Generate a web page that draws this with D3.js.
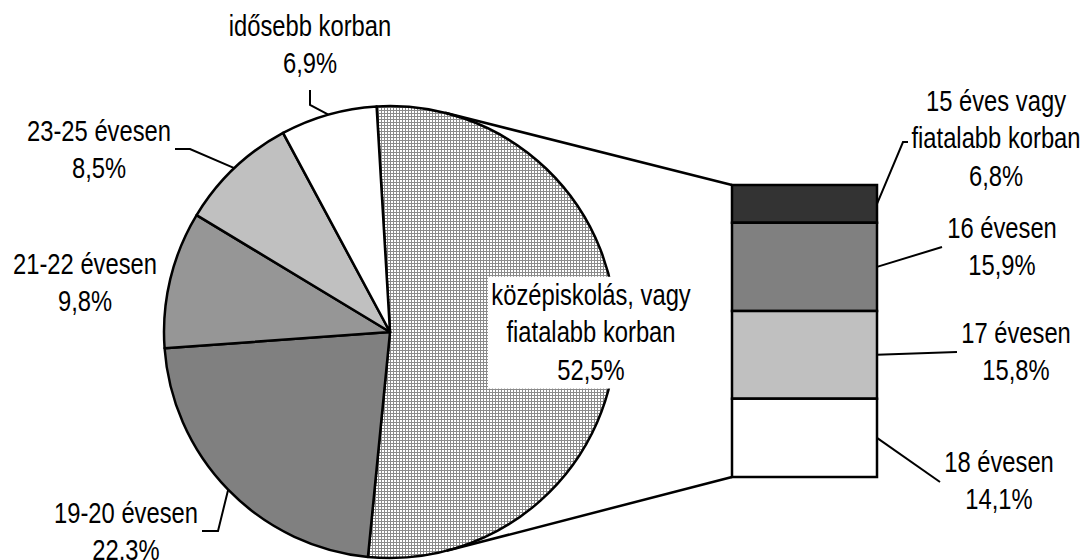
<!DOCTYPE html>
<html>
<head>
<meta charset="utf-8">
<script src="https://cdn.jsdelivr.net/npm/d3@7"></script>
<style>
  body { margin: 0; background: #fff; }
  text { font-family: "Liberation Sans", Arial, sans-serif; font-size: 29px; fill: #000; }
</style>
</head>
<body>
<svg width="1086" height="560"></svg>
<script>
// pie slices (clockwise from the split slice)
var pieLabels = [
    ["középiskolás, vagy", "fiatalabb korban"],
    ["19-20 évesen"],
    ["21-22 évesen"],
    ["23-25 évesen"],
    ["idősebb korban"]
];
var pieValues = [52.5, 22.3, 9.8, 8.5, 6.9];
var pieColors = ["url(#hatch)", "#808080", "#969696", "#c0c0c0", "#ffffff"];

// bar of pie (top to bottom)
var barLabels = [
    ["15 éves vagy", "fiatalabb korban"],
    ["16 évesen"],
    ["17 évesen"],
    ["18 évesen"]
];
var barValues = [6.8, 15.9, 15.8, 14.1];
var barColors = ["#333333", "#808080", "#c0c0c0", "#ffffff"];

var svg = d3.select("svg");

var pieData = { cx: 390, cy: 332, r: 226, start: -3.4 * Math.PI / 180 };
var barData = { x: 732, width: 145, top: 185, bottom: 477 };
var lineHeight = 37.5;
var narrow = 0.82; // mimic Arial Narrow

// label anchors: [center x, first baseline]
var pieLabelPos = [[591, 305], [126, 523], [85, 274], [99, 141], [310, 36]];
var pieLeader = [null, [[202, 531], [218, 531]], null, [[175, 149], [190, 149]], [[310, 90], [310, 105]]];
var barLabelPos = [[996, 111], [1002, 238], [1016, 343], [999, 472]];
var barLeader = [[[903, 142], [908, 142]], [[942, 247]], [[957, 352]], [[940, 482]]];

var fmt = function (v) { return d3.format(".1f")(v).replace(".", ",") + "%"; };

// crosshatch pattern
var pat = svg.append("defs").append("pattern")
    .attr("id", "hatch")
    .attr("width", 3).attr("height", 3)
    .attr("patternUnits", "userSpaceOnUse");
pat.append("rect").attr("width", 3).attr("height", 3).attr("fill", "#fff");
pat.append("path").attr("d", "M0,0.5H3M0.5,0V3")
    .attr("stroke", "#8a8a8a").attr("stroke-width", 1);

var pie = d3.pie().sort(null)
    .startAngle(pieData.start)
    .endAngle(pieData.start + 2 * Math.PI);
var arcs = pie(pieValues);
var arc = d3.arc().innerRadius(0).outerRadius(pieData.r);

var gPie = svg.append("g")
    .attr("transform", "translate(" + pieData.cx + "," + pieData.cy + ")");

gPie.selectAll("path")
    .data(arcs)
    .enter().append("path")
    .attr("d", arc)
    .attr("fill", function (d, i) { return pieColors[i]; })
    .attr("stroke", "#000")
    .attr("stroke-width", 2.5)
    .attr("stroke-linejoin", "round");

// bar stack
var y = d3.scaleLinear()
    .domain([0, d3.sum(barValues)])
    .range([barData.top, barData.bottom]);
var cum = 0;
var barSegs = barValues.map(function (v) { var s = { y0: cum, y1: cum + v }; cum += v; return s; });

svg.append("g").selectAll("rect")
    .data(barSegs)
    .enter().append("rect")
    .attr("x", barData.x)
    .attr("width", barData.width)
    .attr("y", function (d) { return y(d.y0); })
    .attr("height", function (d) { return y(d.y1) - y(d.y0); })
    .attr("fill", function (d, i) { return barColors[i]; })
    .attr("stroke", "#000")
    .attr("stroke-width", 2.5);

// connector lines: bar corners to tangent points on the pie
function tangent(px, py, side) {
    var dx = px - pieData.cx, dy = py - pieData.cy;
    var d = Math.sqrt(dx * dx + dy * dy);
    var th = Math.atan2(dy, dx), a = Math.acos(pieData.r / d);
    var t = th + side * a;
    return [pieData.cx + pieData.r * Math.cos(t), pieData.cy + pieData.r * Math.sin(t)];
}
[[barData.x, y(0), -1], [barData.x, y(d3.sum(barValues)), 1]].forEach(function (c) {
    var t = tangent(c[0], c[1], c[2]);
    svg.append("line")
        .attr("x1", c[0]).attr("y1", c[1])
        .attr("x2", t[0]).attr("y2", t[1])
        .attr("stroke", "#000").attr("stroke-width", 2.5);
});

var line = d3.line();

function addLabel(parent, pos, lines) {
    var t = parent.append("text")
        .attr("text-anchor", "middle")
        .attr("transform", "translate(" + pos[0] + "," + pos[1] + ") scale(" + narrow + ",1)");
    lines.forEach(function (s, k) {
        t.append("tspan").attr("x", 0).attr("y", k * lineHeight).text(s);
    });
    return t;
}

// pie leaders + labels
arcs.forEach(function (d, i) {
    var mid = (d.startAngle + d.endAngle) / 2;
    var edge = [pieData.cx + pieData.r * Math.sin(mid), pieData.cy - pieData.r * Math.cos(mid)];
    if (pieLeader[i]) {
        svg.append("path")
            .attr("d", line(pieLeader[i].concat([edge])))
            .attr("fill", "none").attr("stroke", "#000").attr("stroke-width", 2);
    }
    var g = svg.append("g");
    var t = addLabel(g, pieLabelPos[i], pieLabels[i].concat([fmt(pieValues[i])]));
    if (i === 0) {
        var bb = t.node().getBBox();
        var w = bb.width * narrow;
        g.insert("rect", "text")
            .attr("x", pieLabelPos[i][0] - w / 2 - 3)
            .attr("y", pieLabelPos[i][1] + bb.y - 2)
            .attr("width", w + 6).attr("height", bb.height + 4)
            .attr("fill", "#fff");
    }
});

// bar leaders + labels
barSegs.forEach(function (d, i) {
    var start = [barData.x + barData.width, (y(d.y0) + y(d.y1)) / 2];
    svg.append("path")
        .attr("d", line([start].concat(barLeader[i])))
        .attr("fill", "none").attr("stroke", "#000").attr("stroke-width", 2);
    addLabel(svg, barLabelPos[i], barLabels[i].concat([fmt(barValues[i])]));
});
</script>
</body>
</html>
